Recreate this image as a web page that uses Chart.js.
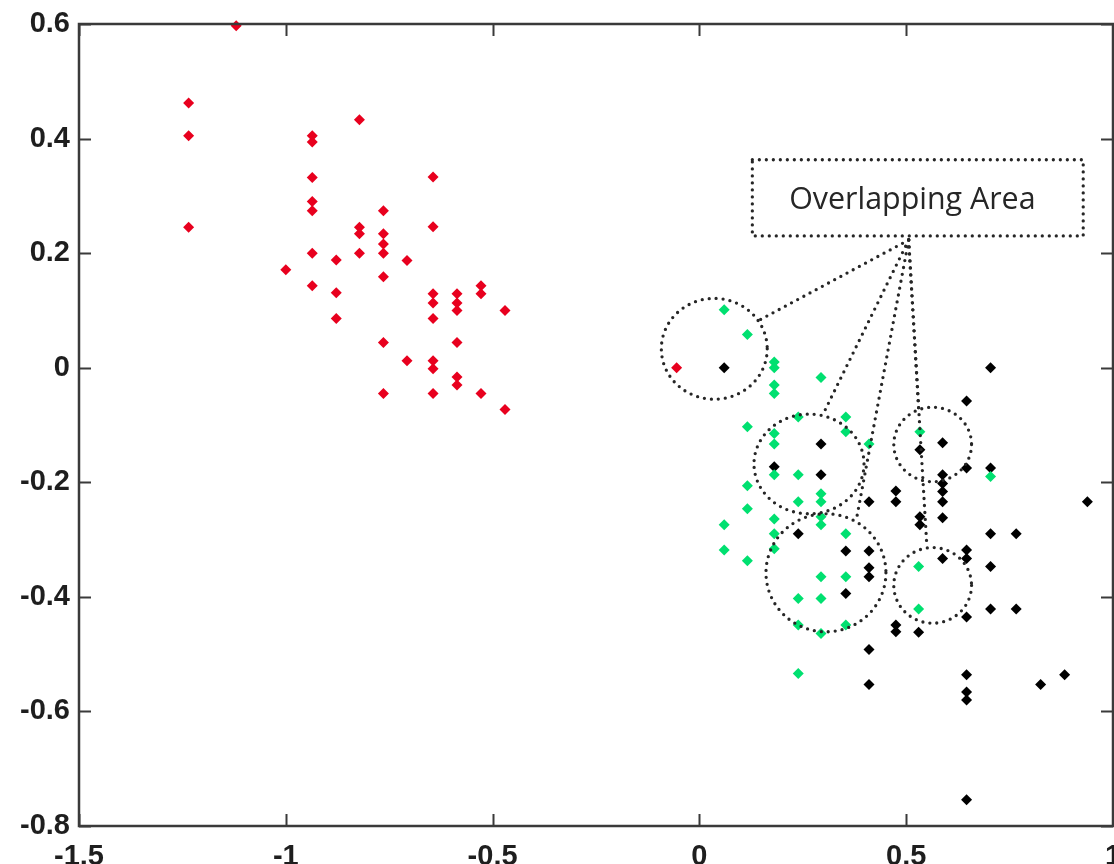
<!DOCTYPE html>
<html><head><meta charset="utf-8">
<script src="https://cdn.jsdelivr.net/npm/chart.js@4.4.1/dist/chart.umd.min.js"></script>
<style>html,body{margin:0;padding:0;background:#fff;overflow:hidden;width:1114px;height:864px}canvas{display:block}</style>
</head><body>
<canvas id="c" width="1124" height="864"></canvas>
<script>
// ---- tick labels ----
const xTickLabels = ['-1.5', '-1', '-0.5', '0', '0.5', '1'];
const yTickLabels = ['-0.8', '-0.6', '-0.4', '-0.2', '0', '0.2', '0.4', '0.6'];

// ---- series: red ----
const redX = [-1.12, -1.235, -1.235, -1.235, -0.822, -0.936, -0.936, -0.936, -0.936, -0.936,
  -0.936, -1.0, -0.936, -0.878, -0.878, -0.878, -0.822, -0.822, -0.822, -0.764,
  -0.764, -0.764, -0.764, -0.764, -0.707, -0.644, -0.644, -0.644, -0.644, -0.644,
  -0.586, -0.586, -0.586, -0.528, -0.528, -0.47, -0.764, -0.586, -0.707, -0.644,
  -0.644, -0.586, -0.586, -0.764, -0.644, -0.528, -0.47, -0.055];
const redY = [0.597, 0.462, 0.405, 0.245, 0.433, 0.405, 0.394, 0.332, 0.29, 0.274,
  0.20, 0.171, 0.143, 0.188, 0.131, 0.086, 0.245, 0.234, 0.20, 0.274,
  0.234, 0.216, 0.20, 0.159, 0.187, 0.333, 0.246, 0.129, 0.113, 0.086,
  0.129, 0.113, 0.10, 0.143, 0.129, 0.10, 0.044, 0.044, 0.012, 0.012,
  -0.002, -0.016, -0.03, -0.045, -0.045, -0.045, -0.073, 0.0];

// ---- series: green ----
const greenX = [0.06, 0.116, 0.181, 0.181, 0.181, 0.181, 0.294, 0.116, 0.181, 0.181,
  0.239, 0.354, 0.354, 0.41, 0.181, 0.239, 0.116, 0.294, 0.294, 0.239,
  0.116, 0.294, 0.294, 0.06, 0.181, 0.181, 0.354, 0.181, 0.06, 0.116,
  0.294, 0.354, 0.239, 0.294, 0.239, 0.294, 0.354, 0.239, 0.533, 0.704,
  0.53, 0.53];
const greenY = [0.101, 0.058, 0.01, 0.0, -0.03, -0.045, -0.017, -0.103, -0.115, -0.133,
  -0.086, -0.086, -0.112, -0.133, -0.187, -0.187, -0.206, -0.22, -0.234, -0.234,
  -0.246, -0.26, -0.274, -0.274, -0.264, -0.29, -0.29, -0.316, -0.318, -0.337,
  -0.365, -0.365, -0.403, -0.403, -0.449, -0.464, -0.449, -0.534, -0.112, -0.19,
  -0.347, -0.421];

// ---- series: black ----
const blackX = [0.06, 0.294, 0.181, 0.294, 0.41, 0.239, 0.354, 0.41, 0.41, 0.41,
  0.354, 0.41, 0.41, 0.704, 0.646, 0.588, 0.533, 0.646, 0.704, 0.588,
  0.588, 0.588, 0.588, 0.588, 0.475, 0.475, 0.533, 0.533, 0.938, 0.704,
  0.766, 0.646, 0.646, 0.588, 0.704, 0.704, 0.766, 0.646, 0.475, 0.475,
  0.53, 0.646, 0.646, 0.646, 0.825, 0.883, 0.646];
const blackY = [0.0, -0.133, -0.173, -0.187, -0.234, -0.29, -0.32, -0.32, -0.349, -0.365,
  -0.394, -0.492, -0.553, 0.0, -0.058, -0.131, -0.143, -0.175, -0.175, -0.187,
  -0.202, -0.216, -0.234, -0.262, -0.215, -0.234, -0.26, -0.274, -0.234, -0.29,
  -0.29, -0.318, -0.333, -0.333, -0.347, -0.421, -0.421, -0.435, -0.449, -0.461,
  -0.462, -0.536, -0.566, -0.58, -0.553, -0.536, -0.754];

// ---- annotation (data units) ----
const calloutText = 'Overlapping Area';
const calloutBoxX = [0.128, 0.928];
const calloutBoxY = [0.363, 0.230];
const calloutTextPos = [0.515, 0.277];
const calloutApex = [0.506, 0.223];
const leaderEndX = [0.137, 0.297, 0.379, 0.530, 0.550];
const leaderEndY = [0.080, -0.084, -0.267, -0.070, -0.312];
const circleCX = [0.036, 0.265, 0.306, 0.564, 0.564];
const circleCY = [0.033, -0.168, -0.358, -0.134, -0.380];
const circleRX = [0.128, 0.133, 0.145, 0.094, 0.094];
const circleRY = [0.088, 0.087, 0.103, 0.065, 0.066];

const toPts = (xs, ys) => xs.map((x, i) => ({ x, y: ys[i] }));

const frameAndNotes = {
  id: 'frameAndNotes',
  afterDatasetsDraw(chart) {
    const { ctx, chartArea: a, scales: { x, y } } = chart;
    ctx.save();
    // axes box
    ctx.strokeStyle = '#3a3a3a';
    ctx.lineWidth = 2.5;
    ctx.strokeRect(a.left, a.top, a.right - a.left, a.bottom - a.top);
    // inward ticks on all four sides
    const tl = 12;
    ctx.lineWidth = 2;
    ctx.beginPath();
    x.ticks.forEach(t => {
      const px = Math.round(x.getPixelForValue(t.value)) + 0.5;
      ctx.moveTo(px, a.bottom); ctx.lineTo(px, a.bottom - tl);
      ctx.moveTo(px, a.top); ctx.lineTo(px, a.top + tl);
    });
    y.ticks.forEach(t => {
      const py = Math.round(y.getPixelForValue(t.value)) + 0.5;
      ctx.moveTo(a.left, py); ctx.lineTo(a.left + tl, py);
      ctx.moveTo(a.right, py); ctx.lineTo(a.right - tl, py);
    });
    ctx.stroke();

    // dotted annotation
    ctx.strokeStyle = '#262626';
    ctx.lineWidth = 3.3;
    ctx.lineCap = 'round';
    ctx.setLineDash([0, 7]);
    const bx0 = x.getPixelForValue(calloutBoxX[0]), bx1 = x.getPixelForValue(calloutBoxX[1]);
    const by0 = y.getPixelForValue(calloutBoxY[0]), by1 = y.getPixelForValue(calloutBoxY[1]);
    ctx.beginPath();
    ctx.rect(bx0, by0, bx1 - bx0, by1 - by0);
    ctx.stroke();
    const ax = x.getPixelForValue(calloutApex[0]), ay = y.getPixelForValue(calloutApex[1]);
    leaderEndX.forEach((ex, i) => {
      ctx.beginPath();
      ctx.moveTo(ax, ay);
      ctx.lineTo(x.getPixelForValue(ex), y.getPixelForValue(leaderEndY[i]));
      ctx.stroke();
    });
    circleCX.forEach((cx, i) => {
      const px = x.getPixelForValue(cx), py = y.getPixelForValue(circleCY[i]);
      const rx = Math.abs(x.getPixelForValue(cx + circleRX[i]) - px);
      const ry = Math.abs(y.getPixelForValue(circleCY[i] + circleRY[i]) - py);
      ctx.beginPath();
      ctx.ellipse(px, py, rx, ry, 0, 0, Math.PI * 2);
      ctx.stroke();
    });
    ctx.setLineDash([]);
    // callout text, fitted to its width in the box
    const targetW = (bx1 - bx0) * 0.744;
    ctx.font = '30px "Open Sans"';
    const w30 = ctx.measureText(calloutText).width;
    const fs = Math.max(10, 30 * targetW / w30);
    ctx.font = fs.toFixed(1) + 'px "Open Sans"';
    ctx.fillStyle = '#262626';
    ctx.textAlign = 'center';
    ctx.textBaseline = 'alphabetic';
    ctx.fillText(calloutText, x.getPixelForValue(calloutTextPos[0]), y.getPixelForValue(calloutTextPos[1]));
    ctx.restore();
  }
};

const noPad = () => ({ left: 0, top: 0, right: 0, bottom: 0 });
const tickFont = { family: '"Liberation Sans", Arial, sans-serif', size: 29, weight: 'bold' };
const mk = (label, data, color) => ({
  label, data, backgroundColor: color, borderColor: color, borderWidth: 0,
  pointStyle: 'rectRot', pointRadius: 5.5, pointHoverRadius: 5.5, clip: false
});

new Chart(document.getElementById('c'), {
  type: 'scatter',
  data: {
    datasets: [
      mk('red', toPts(redX, redY), '#e8001e'),
      mk('green', toPts(greenX, greenY), '#00e070'),
      mk('black', toPts(blackX, blackY), '#000000')
    ]
  },
  options: {
    responsive: false,
    devicePixelRatio: 1,
    animation: false,
    events: [],
    layout: { padding: { top: 24, right: 11, left: 0, bottom: 0 } },
    plugins: { legend: { display: false }, tooltip: { enabled: false } },
    scales: {
      x: {
        type: 'linear', min: -1.5, max: 1,
        afterBuildTicks: s => { s.ticks = xTickLabels.map(v => ({ value: parseFloat(v) })); },
        ticks: {
          callback: (v, i) => xTickLabels[i],
          font: tickFont, color: '#1e1e1e', padding: 14, maxRotation: 0, autoSkip: false
        },
        grid: { display: false, drawTicks: false },
        border: { display: false },
        afterFit: s => { s.height = 38; s.paddingLeft = 0; s.paddingRight = 0; s.getPadding = noPad; }
      },
      y: {
        type: 'linear', min: -0.8, max: 0.6,
        afterBuildTicks: s => { s.ticks = yTickLabels.map(v => ({ value: parseFloat(v) })); },
        ticks: {
          callback: (v, i) => yTickLabels[i],
          font: tickFont, color: '#1e1e1e', padding: 9, autoSkip: false
        },
        grid: { display: false, drawTicks: false },
        border: { display: false },
        afterFit: s => { s.width = 79; s.paddingTop = 0; s.paddingBottom = 0; s.getPadding = noPad; }
      }
    }
  },
  plugins: [frameAndNotes]
});
</script>
</body></html>
